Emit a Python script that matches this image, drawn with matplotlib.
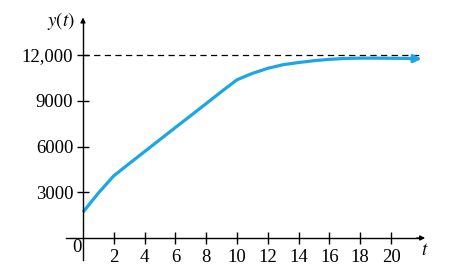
import matplotlib.pyplot as plt
import numpy as np

plt.rcParams['font.family'] = ['Liberation Serif', 'DejaVu Serif']
plt.rcParams['mathtext.fontset'] = 'stix'

# values
t = [0, 1, 2, 3, 4, 5, 6, 7, 8, 9, 10, 11, 12, 13, 14, 15, 16, 17, 18, 19, 20, 21, 22]
y = [1700, 2950, 4080, 4880, 5670, 6460, 7250, 8030, 8820, 9610, 10380, 10800,
     11130, 11370, 11510, 11630, 11720, 11780, 11800, 11800, 11790, 11780, 11750]
carrying = 12000
xticks = [2, 4, 6, 8, 10, 12, 14, 16, 18, 20]
yticks = [3000, 6000, 9000, 12000]
ytick_labels = ['3000', '6000', '9000', '12,000']

blue = '#1ea6e2'

fig = plt.figure(figsize=(4.69, 2.71), dpi=100)
ax = fig.add_axes([0, 0, 1, 1])
ax.set_xlim(-83 / 15.4, (469 - 83) / 15.4)
ax.set_ylim(-33 * 65.6, 238 * 65.6)

# axes through the origin
for s in ['top', 'right']:
    ax.spines[s].set_visible(False)
ax.spines['left'].set_position(('data', 0))
ax.spines['bottom'].set_position(('data', 0))
ax.spines['left'].set_bounds(-1450, 14200)
ax.spines['bottom'].set_bounds(-1.1, 21.8)
ax.spines['left'].set_linewidth(1.0)
ax.spines['bottom'].set_linewidth(1.0)
ax.annotate('', xy=(0, 14650), xytext=(0, 14000),
            arrowprops=dict(arrowstyle='-|>', color='black', lw=1.0, mutation_scale=7))
ax.annotate('', xy=(22.4, 0), xytext=(21.5, 0),
            arrowprops=dict(arrowstyle='-|>', color='black', lw=1.0, mutation_scale=7))

ax.set_xticks(xticks)
ax.set_xticklabels([str(v) for v in xticks])
ax.set_yticks(yticks)
ax.set_yticklabels(ytick_labels)
ax.tick_params(axis='both', direction='inout', length=9, width=1.0, labelsize=13.5)
ax.tick_params(axis='x', pad=3.5)
ax.tick_params(axis='y', pad=2.5)

ax.text(-0.4, -650, '0', ha='center', va='center', fontsize=13.5)
ax.text(-0.55, 14250, r'$y(t)$', ha='right', va='center', fontsize=13.5)
ax.text(22.2, -800, r'$t$', ha='center', va='center', fontsize=13.5)

# carrying capacity
ax.plot([0, 22], [carrying, carrying], color='black', lw=0.9, ls=(0, (5, 3.5)))

# solution curve
ax.plot(t[:-1], y[:-1], color=blue, lw=2.3, solid_capstyle='butt')
ax.annotate('', xy=(t[-1], y[-1]), xytext=(t[-2], y[-2]),
            arrowprops=dict(arrowstyle='-|>', color=blue, lw=2.3, mutation_scale=11,
                            shrinkA=0, shrinkB=0))

fig.savefig('out.png', dpi=100)
